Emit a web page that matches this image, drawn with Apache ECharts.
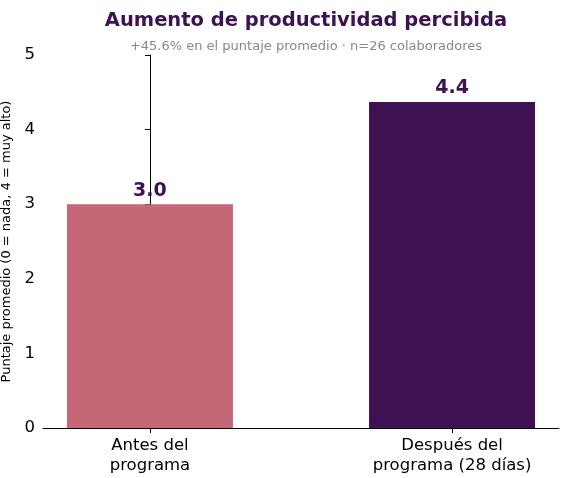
<!DOCTYPE html>
<html><head><meta charset="utf-8">
<script src="https://cdn.jsdelivr.net/npm/echarts@6/dist/echarts.min.js"></script>
<style>html,body{margin:0;padding:0;background:#fff}#c{width:568px;height:478px}</style>
</head><body><div id="c"></div>
<script>
const categories = ["Antes del\nprograma", "Después del\nprograma (28 días)"];
const values = [3.0, 4.37];
const labels = ["3.0", "4.4"];
const colors = ["#C46777", "#3D1152"];
const yTicks = [0, 1, 2, 3, 4, 5];

const chart = echarts.init(document.getElementById('c'));
chart.setOption({
  animation: false,
  title: [{
    text: 'Aumento de productividad percibida',
    left: 301, top: 6, textAlign: 'center',
    textStyle: {fontFamily: 'DejaVu Sans', fontSize: 19.5, fontWeight: 'bold', color: '#3D1152'}
  }, {
    text: '+45.6% en el puntaje promedio · n=26 colaboradores',
    left: 301, top: 35, textAlign: 'center',
    textStyle: {fontFamily: 'DejaVu Sans', fontSize: 13, fontWeight: 'normal', color: '#888'}
  }],
  grid: {left: 43, right: 9, top: 55, bottom: 50, outerBoundsMode: 'none', containLabel: false},
  xAxis: {
    type: 'value', min: -0.354, max: 1.354,
    splitLine: {show: false},
    axisLine: {lineStyle: {color: '#000'}},
    axisTick: {show: true, customValues: [0, 1], lineStyle: {color: '#000'}},
    axisLabel: {customValues: [0, 1], formatter: v => categories[Math.round(v)],
      fontFamily: 'DejaVu Sans', fontSize: 16.5, color: '#000', margin: 8, lineHeight: 20}
  },
  yAxis: {
    type: 'value', min: yTicks[0], max: yTicks[yTicks.length-1], interval: 1,
    name: 'Puntaje promedio (0 = nada, 4 = muy alto)', nameLocation: 'middle', nameGap: 28,
    nameTextStyle: {fontFamily: 'DejaVu Sans', fontSize: 13, color: '#000'},
    splitLine: {show: false},
    axisLine: {show: true, lineStyle: {color: '#000'}},
    axisTick: {show: true, lineStyle: {color: '#000'}},
    axisLabel: {fontFamily: 'DejaVu Sans', fontSize: 16.5, color: '#000'}
  },
  series: [{
    type: 'bar', barWidth: 166,
    data: values.map((v, i) => ({value: [i, v], itemStyle: {color: colors[i]}})),
    label: {show: true, position: 'top', distance: 4,
      formatter: p => labels[p.dataIndex],
      fontFamily: 'DejaVu Sans', fontSize: 19, fontWeight: 'bold', color: '#3D1152'}
  }]
});
</script></body></html>
